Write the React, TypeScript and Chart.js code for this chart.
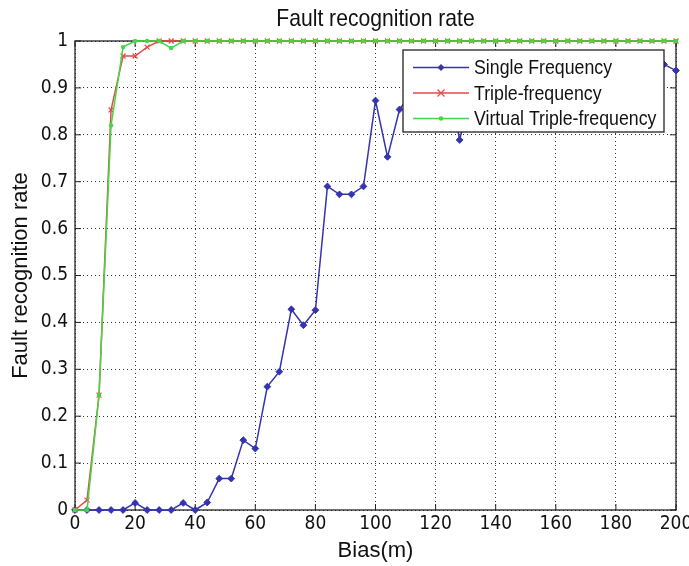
import React, { useEffect, useRef } from "react";
import { Chart, registerables } from "chart.js";

Chart.register(...registerables);

const biasValues = [
  0, 4, 8, 12, 16, 20, 24, 28, 32, 36, 40, 44, 48, 52, 56, 60, 64, 68, 72, 76,
  80, 84, 88, 92, 96, 100, 104, 108, 112, 116, 120, 124, 128, 132, 136, 140,
  144, 148, 152, 156, 160, 164, 168, 172, 176, 180, 184, 188, 192, 196, 200,
];

const singleFrequency = [
  0, 0, 0, 0, 0, 0.015, 0, 0, 0, 0.015, 0, 0.016, 0.067, 0.067, 0.149, 0.131,
  0.263, 0.295, 0.428, 0.394, 0.426, 0.69, 0.673, 0.673, 0.69, 0.873, 0.753,
  0.854, 0.89, 0.91, 0.9, 0.93, 0.789, 0.9, 0.93, 0.92, 0.95, 0.93, 0.95, 0.94,
  0.96, 0.95, 0.96, 0.95, 0.97, 0.96, 0.95, 0.97, 0.96, 0.95, 0.937,
];

const tripleFrequency = [
  0, 0.021, 0.245, 0.853, 0.968, 0.968, 0.987, 1, 1, 1, 1, 1, 1, 1, 1, 1, 1, 1,
  1, 1, 1, 1, 1, 1, 1, 1, 1, 1, 1, 1, 1, 1, 1, 1, 1, 1, 1, 1, 1, 1, 1, 1, 1, 1,
  1, 1, 1, 1, 1, 1, 1,
];

const virtualTripleFrequency = [
  0, 0, 0.245, 0.82, 0.987, 1, 1, 1, 0.985, 1, 1, 1, 1, 1, 1, 1, 1, 1, 1, 1, 1,
  1, 1, 1, 1, 1, 1, 1, 1, 1, 1, 1, 1, 1, 1, 1, 1, 1, 1, 1, 1, 1, 1, 1, 1, 1, 1,
  1, 1, 1, 1,
];

const seriesLabels = ["Single Frequency", "Triple-frequency", "Virtual Triple-frequency"];
const chartTitle = "Fault recognition rate";
const xAxisTitle = "Bias(m)";
const yAxisTitle = "Fault recognition rate";

const BLUE = "#3434b0";
const RED = "#e8474a";
const GREEN = "#44d844";

const TICKFONT = '"DejaVu Sans Condensed", "Liberation Sans", sans-serif';
const REGULAR = '"Liberation Sans", Arial, sans-serif';

function drawCondensed(
  ctx: CanvasRenderingContext2D,
  text: string,
  x: number,
  y: number,
  size: number,
  sx: number,
  align: CanvasTextAlign
) {
  ctx.save();
  ctx.font = `${size}px ${REGULAR}`;
  ctx.textAlign = align;
  ctx.textBaseline = "middle";
  ctx.translate(x, y);
  ctx.scale(sx, 1);
  ctx.fillText(text, 0, 0);
  ctx.restore();
}

function drawMarker(ctx: CanvasRenderingContext2D, style: string, x: number, y: number, color: string) {
  ctx.save();
  ctx.strokeStyle = color;
  ctx.fillStyle = color;
  ctx.lineWidth = 1.2;
  ctx.beginPath();
  if (style === "rectRot") {
    const r = 3.5;
    ctx.moveTo(x, y - r);
    ctx.lineTo(x + r, y);
    ctx.lineTo(x, y + r);
    ctx.lineTo(x - r, y);
    ctx.closePath();
    ctx.fill();
  } else if (style === "crossRot") {
    const r = 3.5;
    ctx.moveTo(x - r, y - r);
    ctx.lineTo(x + r, y + r);
    ctx.moveTo(x + r, y - r);
    ctx.lineTo(x - r, y + r);
    ctx.stroke();
  } else {
    ctx.arc(x, y, 2.3, 0, Math.PI * 2);
    ctx.fill();
  }
  ctx.restore();
}

const framePlugin = {
  id: "matlabFrame",
  beforeDatasetsDraw(chart: any) {
    const { ctx, chartArea } = chart;
    const { left, right, top, bottom } = chartArea;
    const xs = chart.scales.x;
    const ys = chart.scales.y;
    ctx.save();
    ctx.strokeStyle = "#222";
    ctx.lineWidth = 1.3;
    ctx.strokeRect(left, top, right - left, bottom - top);
    ctx.lineWidth = 1;
    ctx.beginPath();
    xs.ticks.forEach((t: any) => {
      const px = xs.getPixelForValue(t.value);
      ctx.moveTo(px, bottom);
      ctx.lineTo(px, bottom - 6);
      ctx.moveTo(px, top);
      ctx.lineTo(px, top + 6);
    });
    ys.ticks.forEach((t: any) => {
      const py = ys.getPixelForValue(t.value);
      ctx.moveTo(left, py);
      ctx.lineTo(left + 6, py);
      ctx.moveTo(right, py);
      ctx.lineTo(right - 6, py);
    });
    ctx.stroke();
    ctx.restore();
  },
  afterDatasetsDraw(chart: any) {
    const { ctx, chartArea } = chart;
    const { left, right, top, bottom } = chartArea;
    ctx.save();
    // legend box
    const lw = 261;
    const lh = 82;
    const lx = right - 12 - lw;
    const ly = top + 9;
    ctx.fillStyle = "#fff";
    ctx.fillRect(lx, ly, lw, lh);
    ctx.strokeStyle = "#222";
    ctx.lineWidth = 1.3;
    ctx.strokeRect(lx, ly, lw, lh);
    chart.data.datasets.forEach((ds: any, i: number) => {
      const cy = ly + 17.5 + i * 25.5;
      ctx.strokeStyle = ds.borderColor;
      ctx.lineWidth = 1.5;
      ctx.beginPath();
      ctx.moveTo(lx + 10, cy);
      ctx.lineTo(lx + 66, cy);
      ctx.stroke();
      drawMarker(ctx, ds.pointStyle, lx + 38, cy, ds.borderColor);
      ctx.fillStyle = "#111";
      drawCondensed(ctx, ds.label, lx + 71, cy + 1, 21, 0.845, "left");
    });
    // titles
    ctx.fillStyle = "#111";
    drawCondensed(ctx, chartTitle, (left + right) / 2, 19, 24, 0.88, "center");
    ctx.font = `22px ${REGULAR}`;
    ctx.textAlign = "center";
    ctx.textBaseline = "middle";
    ctx.fillText(xAxisTitle, (left + right) / 2, 551);
    ctx.translate(21, (top + bottom) / 2);
    ctx.rotate(-Math.PI / 2);
    ctx.fillText(yAxisTitle, 0, 0);
    ctx.restore();
  },
};

export default function App() {
  const canvasRef = useRef<HTMLCanvasElement | null>(null);

  useEffect(() => {
    document.body.style.margin = "0";
    const canvas = canvasRef.current;
    if (!canvas) return;
    const mk = (vals: number[]) => biasValues.map((x, i) => ({ x, y: vals[i] }));
    const chart = new Chart(canvas, {
      type: "line",
      data: {
        datasets: [
          {
            label: seriesLabels[0],
            data: mk(singleFrequency),
            borderColor: BLUE,
            backgroundColor: BLUE,
            pointStyle: "rectRot",
            pointRadius: 3.4,
            pointBorderWidth: 1,
            borderWidth: 1.5,
            order: 2,
            clip: false,
          },
          {
            label: seriesLabels[1],
            data: mk(tripleFrequency),
            borderColor: RED,
            backgroundColor: RED,
            pointStyle: "crossRot",
            pointRadius: 3.5,
            pointBorderWidth: 1.2,
            borderWidth: 1.5,
            order: 1,
            clip: false,
          },
          {
            label: seriesLabels[2],
            data: mk(virtualTripleFrequency),
            borderColor: GREEN,
            backgroundColor: GREEN,
            pointStyle: "circle",
            pointRadius: 2.2,
            pointBorderWidth: 0,
            borderWidth: 1.5,
            order: 0,
            clip: false,
          },
        ],
      } as any,
      options: {
        animation: false,
        responsive: false,
        maintainAspectRatio: false,
        layout: { padding: { top: 41, right: 13, left: 0, bottom: 0 } },
        plugins: {
          legend: { display: false },
          title: { display: false },
          tooltip: { enabled: false },
        },
        elements: { line: { tension: 0 } },
        scales: {
          x: {
            type: "linear",
            min: 0,
            max: 200,
            ticks: {
              stepSize: 20,
              color: "#111",
              font: { family: TICKFONT, size: 19 },
              padding: 3,
              maxRotation: 0,
            },
            grid: { color: "#333", lineWidth: 1, drawTicks: false },
            border: { display: false, dash: [1, 3] },
            afterFit: (s: any) => {
              s.height = 56;
              s.paddingLeft = 0;
              s.paddingRight = 0;
            },
          },
          y: {
            type: "linear",
            min: 0,
            max: 1,
            ticks: {
              stepSize: 0.1,
              color: "#111",
              font: { family: TICKFONT, size: 19 },
              padding: 7,
              callback: (v: any) => String(Math.round(Number(v) * 10) / 10),
            },
            grid: { color: "#333", lineWidth: 1, drawTicks: false },
            border: { display: false, dash: [1, 3] },
            afterFit: (s: any) => {
              s.width = 75;
              s.paddingTop = 0;
              s.paddingBottom = 0;
            },
          },
        },
      } as any,
      plugins: [framePlugin],
    });
    return () => chart.destroy();
  }, []);

  return (
    <div style={{ position: "absolute", left: 0, top: 0, width: 689, height: 566, background: "#fff" }}>
      <canvas ref={canvasRef} width={689} height={566} style={{ width: 689, height: 566, display: "block" }} />
    </div>
  );
}
